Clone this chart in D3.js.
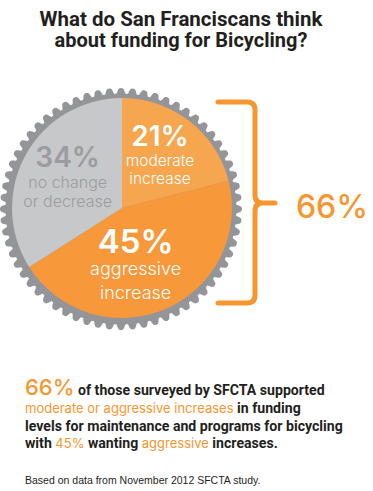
<!DOCTYPE html>
<html>
<head>
<meta charset="utf-8">
<script src="https://cdn.jsdelivr.net/npm/d3@7"></script>
<style>
  html, body { margin: 0; padding: 0; background: #fff; }
  svg { display: block; }
</style>
</head>
<body>
<svg id="chart" width="373" height="491"></svg>
<script>
// ---- data ----
const categories = ["moderate increase", "aggressive increase", "no change or decrease"];
const values = [21, 45, 34];
const percentLabels = ["21%", "45%", "34%"];
const labelLines = [["moderate", "increase"], ["aggressive", "increase"], ["no change", "or decrease"]];
const totalSupport = "66%";
const titleLines = ["What do San Franciscans think", "about funding for Bicycling?"];
const footnote = "Based on data from November 2012 SFCTA study.";

// ---- styles ----
const sliceColors = ["#f6a64f", "#f7983a", "#c7c8c9"];
const textColors = ["#ffffff", "#ffffff", "#9b9ca0"];
const pctSize = [28, 33, 28];
const lineSize = [15.5, 18, 16];
const labelDx = [0, -11, 0];
const pctDy = [-13, -12, -11];
const lineDy = [[7, 25], [10.5, 34], [10, 29]];
const orange = "#f7962f";
const gearColor = "#939598";
const cond = "Roboto, 'Liberation Sans', sans-serif";
const geo = "Inter, 'Open Sans', sans-serif";

const svg = d3.select("#chart");

// title (condensed by horizontal scale)
const titleG = svg.append("g");
titleLines.forEach((t, i) => {
  const gg = titleG.append("g");
  const tx = gg.append("text").attr("text-anchor", "middle")
    .style("font-family", cond).style("font-weight", 700).style("font-size", "20.5px")
    .style("fill", "#231f20").text(t);
  const w = tx.node().getComputedTextLength();
  const target = i === 0 ? 283 : 253;
  gg.attr("transform", `translate(181,${26 + i * 21}) scale(${target / w},1)`);
});

// gear
const cx = 122, cy = 208, R = 110;
const nTeeth = 64;
const step = 2 * Math.PI / nTeeth;
const gearPts = d3.range(nTeeth).flatMap(k => {
  const a = k * step;
  return [[a - 0.17 * step, 120.5], [a + 0.17 * step, 120.5], [a + 0.5 * step, 114]];
});
svg.append("path")
  .attr("transform", `translate(${cx - 1},${cy + 1})`)
  .attr("d", d3.lineRadial().curve(d3.curveCatmullRomClosed)(gearPts))
  .attr("fill", gearColor);
svg.append("circle").attr("cx", cx - 1).attr("cy", cy + 1).attr("r", 115.5).attr("fill", gearColor);

// pie
const pie = d3.pie().sort(null).value(d => d)(values);
const arc = d3.arc().innerRadius(0).outerRadius(R);
const labelArc = d3.arc().innerRadius(62).outerRadius(62);
const g = svg.append("g").attr("transform", `translate(${cx},${cy})`);
g.selectAll("path").data(pie).join("path")
  .attr("d", arc).attr("fill", (d, i) => sliceColors[i]);

const lab = g.selectAll("g.lab").data(pie).join("g").attr("class", "lab")
  .attr("transform", (d, i) => {
    const c = labelArc.centroid(d);
    return `translate(${c[0] + labelDx[i]},${c[1]})`;
  });
lab.append("text")
  .attr("text-anchor", "middle").attr("y", (d, i) => pctDy[i])
  .style("font-family", geo).style("font-weight", 600)
  .style("font-size", (d, i) => pctSize[i] + "px")
  .style("fill", (d, i) => textColors[i])
  .text((d, i) => percentLabels[i]);
lab.each(function(d, i) {
  d3.select(this).selectAll("text.l").data(labelLines[i]).join("text").attr("class", "l")
    .attr("text-anchor", "middle").attr("y", (t, j) => lineDy[i][j])
    .style("font-family", geo).style("font-weight", 300)
    .style("font-size", lineSize[i] + "px")
    .style("fill", textColors[i]).text(t => t);
});

// brace
svg.append("path")
  .attr("d", "M218,102 H247 Q255,102 255,110 V195 Q255,203 263,203 H275 M263,203 Q255,203 255,211 V295 Q255,303 247,303 H218")
  .attr("fill", "none").attr("stroke", orange).attr("stroke-width", 5)
  .attr("stroke-linecap", "round").attr("stroke-linejoin", "round");
svg.append("text").attr("x", 332).attr("y", 218).attr("text-anchor", "middle")
  .style("font-family", geo).style("font-weight", 500).style("font-size", "32px")
  .style("fill", orange).text(totalSupport);

// paragraph: pieces laid out one after another
const para = [
  [{t: totalSupport, o: true, big: true}, {t: " of those surveyed by SFCTA supported"}],
  [{t: "moderate or aggressive increases", o: true}, {t: " in funding"}],
  [{t: "levels for maintenance and programs for bicycling"}],
  [{t: "with "}, {t: "45%", o: true}, {t: " wanting "}, {t: "aggressive", o: true}, {t: " increases."}]
];
const baselines = [395, 413, 431, 448];
const paraG = svg.append("g");
// scale factor for condensed pieces, fitted on the full-width line
const probe = paraG.append("text").style("font-family", cond).style("font-weight", 700)
  .style("font-size", "15px").text(para[2][0].t);
const sx = 318 / probe.node().getComputedTextLength();
probe.remove();
para.forEach((line, li) => {
  let x = 25;
  line.forEach(s => {
    const gg = paraG.append("g");
    const tx = gg.append("text")
      .attr("xml:space", "preserve")
      .style("white-space", "pre")
      .style("font-family", s.o ? geo : cond)
      .style("font-weight", s.big ? 500 : (s.o ? 400 : 700))
      .style("font-size", s.big ? "22px" : (s.o ? "13px" : "15px"))
      .style("fill", s.o ? orange : "#231f20")
      .text(s.t);
    const w = tx.node().getComputedTextLength();
    const k = s.o ? 1 : sx;
    gg.attr("transform", `translate(${x},${baselines[li]}) scale(${k},1)`);
    x += w * k;
  });
});

svg.append("text").attr("x", 25).attr("y", 484)
  .style("font-family", "'Liberation Sans', Arial, sans-serif").style("font-size", "10.5px")
  .style("fill", "#231f20").text(footnote);
</script>
</body>
</html>
